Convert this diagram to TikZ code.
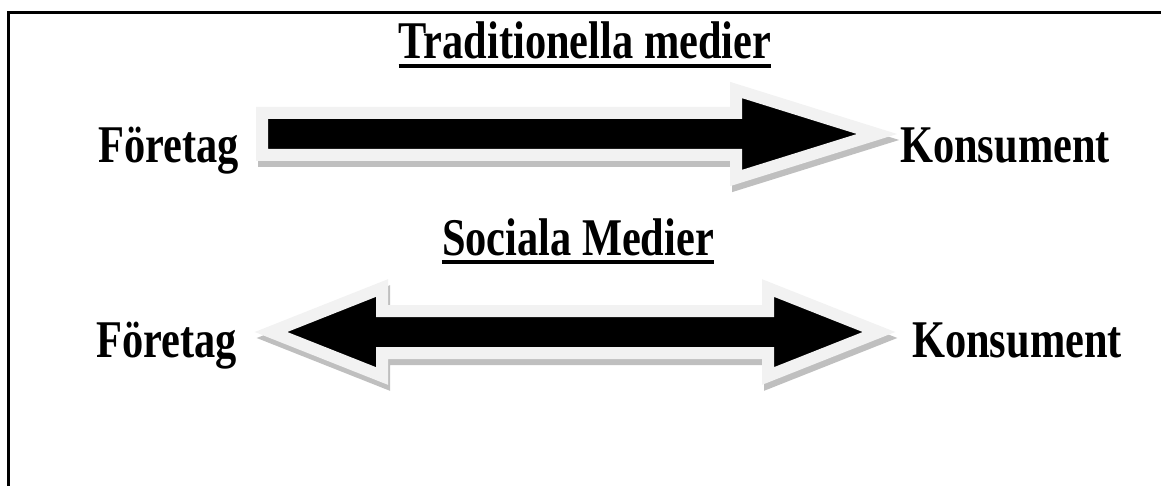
\documentclass[tikz,border=0pt]{standalone}
\usepackage{fontspec}
\usepackage{tikz}
\newfontfamily\lblfont{Liberation Serif}[FakeStretch=0.8]

\begin{document}
\begin{tikzpicture}[x=1pt, y=-1pt,
		lbl/.style={inner sep=0pt, font=\lblfont\bfseries\fontsize{53}{58}\selectfont},
		shadow/.style={draw=black!25, fill=black!25, line width=12pt, line join=miter},
		rim/.style={draw=black!5, fill=black, line width=12pt, line join=miter},
		uline/.style={line width=4pt}]
			
			\useasboundingbox (0, 0) rectangle (1161, 486);
			\draw[line width=3pt] (8, 486) -- (8, 13) -- (1161, 13);
			
			% titles
			\node[lbl, anchor=base] (title1) at (585, 59) {Traditionella medier};
			\draw[uline] ([yshift=-7pt]title1.base west) -- ([yshift=-7pt]title1.base east);
			\node[lbl, anchor=base] (title2) at (578, 255) {Sociala Medier};
			\draw[uline] ([yshift=-7pt]title2.base west) -- ([yshift=-7pt]title2.base east);
			
			\node[lbl, anchor=base west] (firm1) at (98, 163) {Företag};
			\node[lbl, anchor=base west] (cons1) at (900, 163) {Konsument};
			\node[lbl, anchor=base west] (firm2) at (96, 357) {Företag};
			\node[lbl, anchor=base west] (cons2) at (912, 357) {Konsument};
			
			% one way
			\draw[shadow] (264, 119) -- (738, 119) -- (738, 96) -- (879, 140) -- (738, 184) -- (738, 161) -- (264, 161) -- cycle;
			\draw[rim] (262, 113) -- (736, 113) -- (736, 90) -- (877, 134) -- (736, 178) -- (736, 155) -- (262, 155) -- cycle;
			
			% both ways
			\draw[shadow] (273, 338) -- (384, 294) -- (384, 317) -- (770, 317) -- (770, 294) -- (881, 338) -- (770, 382) -- (770, 359) -- (384, 359) -- (384, 382) -- cycle;
			\draw[rim] (271, 332) -- (382, 288) -- (382, 311) -- (768, 311) -- (768, 288) -- (879, 332) -- (768, 376) -- (768, 353) -- (382, 353) -- (382, 376) -- cycle;
			
		\end{tikzpicture}
\end{document}
